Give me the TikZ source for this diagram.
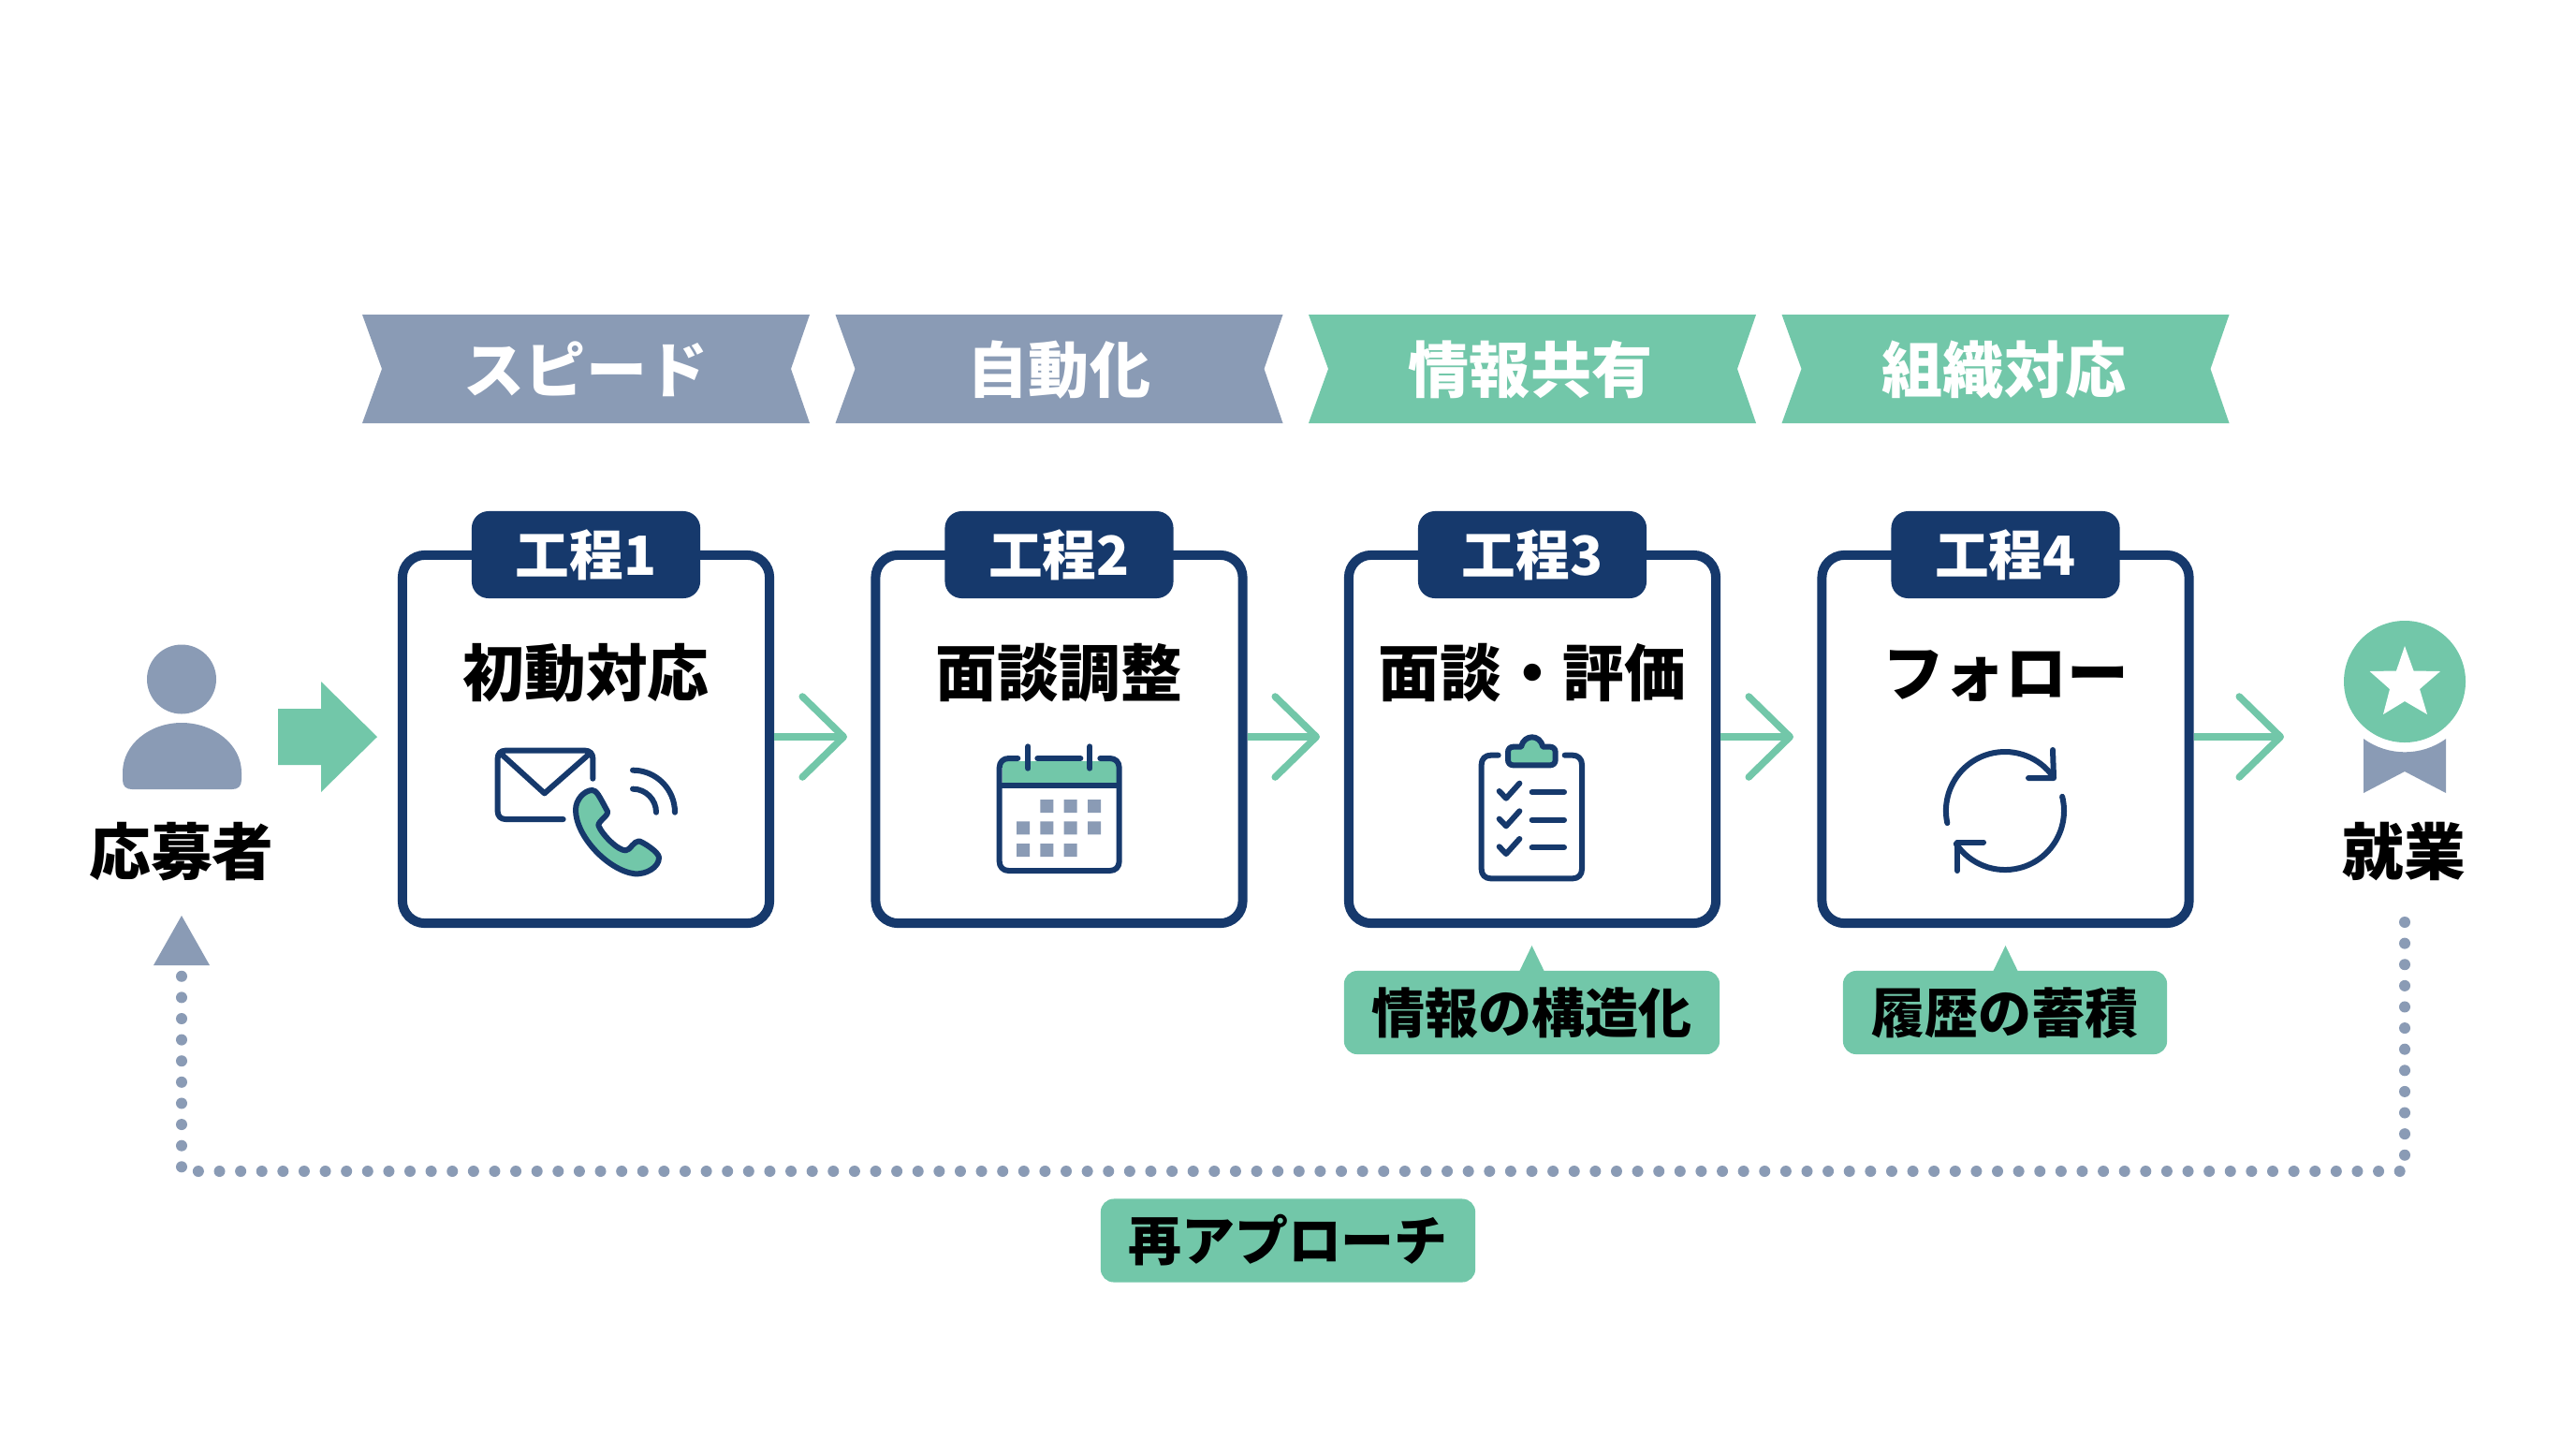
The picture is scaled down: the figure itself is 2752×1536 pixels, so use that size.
\documentclass[tikz,border=0pt]{standalone}
\usepackage{fontspec}
\setmainfont{Noto Sans CJK JP}
\usepackage{tikz}
\usetikzlibrary{arrows.meta}
\definecolor{navy}{HTML}{16396C}
\definecolor{mint}{HTML}{72C7A9}
\definecolor{slate}{HTML}{8A9BB5}
\begin{document}
\begin{tikzpicture}[x=0.01cm, y=-0.01cm,
	banner/.style={font=\bfseries\fontsize{18.5}{22}\selectfont, text=white, inner sep=0pt, text height=16.3pt, text depth=2.2pt},
	card/.style={draw=navy, line width=1mm, fill=white, rounded corners=2.4mm, minimum width=3.92cm, minimum height=3.93cm},
	tab/.style={fill=navy, text=white, font=\bfseries\fontsize{16.4}{20}\selectfont, rounded corners=1.8mm, minimum width=2.44cm, minimum height=0.93cm, inner sep=0pt, text height=14.4pt, text depth=2pt},
	title/.style={font=\bfseries\fontsize{18.7}{23}\selectfont, text=black, inner sep=0pt, text height=16.5pt, text depth=2.2pt},
	note/.style={fill=mint, font=\bfseries\fontsize{16.2}{20}\selectfont, text=black, rounded corners=1.4mm, minimum height=0.89cm, inner sep=0pt, text height=14.3pt, text depth=1.9pt},
	flow/.style={draw=mint, line width=0.75mm, -{Straight Barb[round,length=4.4mm,width=8.6mm,line width=0.75mm]}},
	icon/.style={draw=navy, line width=0.6mm, line cap=round, line join=round}]
	\useasboundingbox (0,0) rectangle (2752,1536);
	\fill [white] (0,0) rectangle (2752,1536);

	\fill [slate] (387,336) --++ (478,0) --++ (-20,58) --++ (20,58) --++ (-478,0) --++ (21,-58) -- cycle;
	\fill [slate] (892.5,336) --++ (478,0) --++ (-20,58) --++ (20,58) --++ (-478,0) --++ (21,-58) -- cycle;
	\fill [mint] (1398,336) --++ (478,0) --++ (-20,58) --++ (20,58) --++ (-478,0) --++ (21,-58) -- cycle;
	\fill [mint] (1903.5,336) --++ (478,0) --++ (-20,58) --++ (20,58) --++ (-478,0) --++ (21,-58) -- cycle;
	\node [banner] (speed) at (626,395) {スピード};
	\node [banner] (auto) at (1131.5,395) {自動化};
	\node [banner] (share) at (1635,395) {情報共有};
	\node [banner] (team) at (2141,395) {組織対応};

	\node [card] (card1) at (626,789.5) {};
	\node [card] (card2) at (1131.5,789.5) {};
	\node [card] (card3) at (1637,789.5) {};
	\node [card] (card4) at (2142.5,789.5) {};
	\node [tab] (tab1) at (626,592.5) {工程1};
	\node [tab] (tab2) at (1131.5,592.5) {工程2};
	\node [tab] (tab3) at (1637,592.5) {工程3};
	\node [tab] (tab4) at (2142.5,592.5) {工程4};
	\node [title] (title1) at (626,718) {初動対応};
	\node [title] (title2) at (1131.5,718) {面談調整};
	\node [title] (title3) at (1637,718) {面談・評価};
	\node [title] (title4) at (2142.5,718) {フォロー};

	\coordinate (tip1) at (905,787);
	\coordinate (tip2) at (1410,787);
	\coordinate (tip3) at (1916,787);
	\coordinate (tip4) at (2440,787);
	\draw [flow] (card1.east |- tip1) -- (tip1);
	\draw [flow] (card2.east |- tip2) -- (tip2);
	\draw [flow] (card3.east |- tip3) -- (tip3);
	\draw [flow] (card4.east |- tip4) -- (tip4);

	\fill [slate] (194,725.5) circle (37);
	\fill [slate] (131,825) .. controls (131,795) and (160,772) .. (194,772) .. controls (228,772) and (258,795) .. (258,825) -- (258,833) .. controls (258,840) and (254,843) .. (248,843) -- (141,843) .. controls (135,843) and (131,840) .. (131,833) -- cycle;
	\node [title] (applicant) at (194,909) {応募者};
	\fill [mint] (297,757) --++ (46,0) --++ (0,-29) --++ (60,59) --++ (-60,59) --++ (0,-29) --++ (-46,0) -- cycle;

	\fill [slate] (2525,789) arc (126:54:75) -- (2613,847) -- (2569,824) -- (2525,847) -- cycle;
	\fill [mint] (2569,728) circle (65);
	\fill [white] (2569,690) -- (2578.5,716.5) -- (2607,717) -- (2585,736) -- (2593,763) -- (2569,749) -- (2546,763) -- (2553,736) -- (2531.5,717) -- (2560,716.5) -- cycle;
	\node [title] (job) at (2568,909) {就業};

	\fill [mint] (1636.5,1010) -- (1651,1040) -- (1622,1040) -- cycle;
	\fill [mint] (2142.5,1010) -- (2157,1040) -- (2128,1040) -- cycle;
	\node [note, minimum width=4.01cm] (struct) at (1636.5,1081.5) {情報の構造化};
	\node [note, minimum width=3.46cm] (history) at (2142,1081.5) {履歴の蓄積};

	\coordinate (loop1) at (2569,985);
	\coordinate (loop2) at (2569,1251);
	\coordinate (loop3) at (194,1251);
	\coordinate (loop4) at (194,978);
	\draw [slate, line width=1.2mm, line cap=round, dash pattern=on 0pt off 2.26mm, -{Triangle[length=5.3mm,width=6mm,line width=0pt]}] (loop1) -- (loop2) -- (loop3) -- (loop4);
	\node [note, minimum width=4cm] (retry) at (1376,1325) {再アプローチ};

	\begin{scope}[shift={(500,770)}, scale=1/3]
		\draw [icon] (400,185) -- (400,120) .. controls (400,105) and (390,95) .. (375,95) -- (120,95) .. controls (105,95) and (95,105) .. (95,120) -- (95,290) .. controls (95,305) and (105,315) .. (120,315) -- (305,315);
		\draw [icon] (102,102) -- (245,232) -- (393,102);
		\filldraw [icon, fill=mint] (345,285) .. controls (345,250) and (375,222) .. (398,222) .. controls (412,222) and (420,240) .. (447,290) .. controls (450,305) and (418,320) .. (418,335) .. controls (430,365) and (480,415) .. (505,415) .. controls (520,415) and (530,385) .. (548,385) .. controls (560,388) and (612,420) .. (612,438) .. controls (612,470) and (570,492) .. (535,490) .. controls (450,480) and (345,370) .. (345,285) -- cycle;
		\draw [icon] (528,218) arc (-90:0:75);
		\draw [icon] (528,158) arc (-90:0:135);
	\end{scope}

	\begin{scope}[shift={(1040,780)}, scale=1/3]
		\fill [mint] (92,100) rectangle (458,178);
		\draw [icon] (142,90) -- (113,90) .. controls (95,90) and (83,102) .. (83,120) -- (83,420) .. controls (83,438) and (95,450) .. (113,450) -- (437,450) .. controls (455,450) and (467,438) .. (467,420) -- (467,120) .. controls (467,102) and (455,90) .. (437,90) -- (406,90);
		\draw [icon] (205,90) -- (343,90);
		\draw [icon, line cap=butt] (83,178) -- (467,178);
		\draw [icon] (175,52) -- (175,122);
		\draw [icon] (373,52) -- (373,122);
		\fill [slate] (214,222) rectangle ++(42,42) (290,222) rectangle ++(42,42) (366,222) rectangle ++(42,42);
		\fill [slate] (138,292) rectangle ++(42,42) (214,292) rectangle ++(42,42) (290,292) rectangle ++(42,42) (366,292) rectangle ++(42,42);
		\fill [slate] (138,363) rectangle ++(42,42) (214,363) rectangle ++(42,42) (290,363) rectangle ++(42,42);
	\end{scope}

	\begin{scope}[shift={(1560,770)}, scale=1/3]
		\draw [icon] (122,110) -- (98,110) .. controls (80,110) and (68,122) .. (68,140) -- (68,475) .. controls (68,493) and (80,505) .. (98,505) -- (360,505) .. controls (378,505) and (390,493) .. (390,475) -- (390,140) .. controls (390,122) and (378,110) .. (360,110) -- (335,110);
		\filldraw [icon, fill=mint] (170,83) -- (195,83) .. controls (200,62) and (215,52) .. (230,52) .. controls (245,52) and (260,62) .. (265,83) -- (288,83) .. controls (298,83) and (305,90) .. (305,100) -- (305,125) .. controls (305,135) and (298,142) .. (288,142) -- (170,142) .. controls (160,142) and (153,135) .. (153,125) -- (153,100) .. controls (153,90) and (160,83) .. (170,83) -- cycle;
		\draw [icon] (125,225) -- (147,248) -- (190,200);
		\draw [icon] (125,314) -- (147,337) -- (190,289);
		\draw [icon] (125,403) -- (147,426) -- (190,378);
		\draw [icon] (230,228) -- (333,228);
		\draw [icon] (230,317) -- (333,317);
		\draw [icon] (230,406) -- (333,406);
	\end{scope}

	\draw [icon] (2080.3,879.1) arc (168:325:63);
	\draw [icon] (2193,801) -- (2194,831) -- (2167,831);
	\draw [icon] (2203.1,850.8) arc (-14:146:63);
	\draw [icon] (2119,899.5) -- (2091,899.5) -- (2091,930);
\end{tikzpicture}
\end{document}
